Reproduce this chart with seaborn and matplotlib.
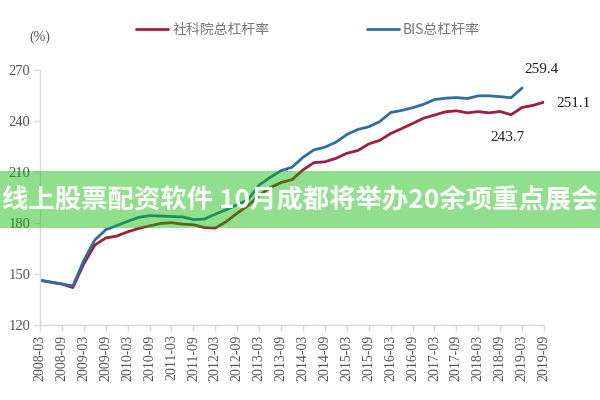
import numpy as np
import pandas as pd
import matplotlib
matplotlib.use("Agg")
import matplotlib.pyplot as plt
from matplotlib.patches import Rectangle
import seaborn as sns

# ---- data ----
quarters = [f"{y}-{m}" for y in range(2008, 2020) for m in ("03", "06", "09", "12")][:47]
cass = [146.3, 145.2, 144.1, 142.0, 156.0, 167.0, 171.2, 172.3, 174.8, 176.8,
        178.3, 179.7, 180.2, 179.3, 179.0, 177.3, 177.0, 180.8, 185.8, 190.3,
        196.3, 200.8, 203.8, 205.5, 211.2, 215.5, 216.0, 218.0, 221.0, 222.6,
        226.5, 228.6, 232.6, 235.5, 238.5, 241.6, 243.5, 245.4, 246.0, 244.8,
        245.5, 244.8, 245.6, 243.7, 248.0, 249.2, 251.1]
bis = [146.3, 145.2, 144.1, 143.0, 158.0, 170.0, 176.0, 178.5, 181.0, 183.3,
       184.3, 184.1, 183.8, 183.6, 182.0, 182.3, 185.2, 187.8, 190.8, 193.8,
       202.3, 206.8, 210.8, 212.8, 218.6, 223.0, 224.6, 227.5, 232.0, 235.0,
       236.6, 239.6, 245.0, 246.2, 247.8, 249.8, 252.6, 253.4, 253.8, 253.2,
       254.8, 254.8, 254.3, 253.7, 259.4, np.nan, np.nan]
series_names = ["社科院总杠杆率", "BIS总杠杆率"]
yticks = [120, 150, 180, 210, 240, 270]
annotations = ["259.4", "251.1", "243.7"]
banner_text = "线上股票配资软件 10月成都将举办20余项重点展会"

df = pd.DataFrame({
    "idx": list(range(len(quarters))) * 2,
    "value": cass + bis,
    "series": [series_names[0]] * len(quarters) + [series_names[1]] * len(quarters),
})

sns.set_style("white")
plt.rcParams["font.family"] = ["Noto Sans CJK SC", "DejaVu Sans"]

fig = plt.figure(figsize=(6, 4), dpi=100)
ax = fig.add_axes([40 / 600, 1 - 325 / 400, 504 / 600, 255 / 400])

palette = {series_names[0]: "#A01E3C", series_names[1]: "#2F6CA6"}
sns.lineplot(data=df.dropna(), x="idx", y="value", hue="series", palette=palette,
             linewidth=2.0, ax=ax, legend=False, sort=True)

ax.set_xlim(0, len(quarters) - 1)
ax.set_ylim(120, 270)
ax.set_yticks(yticks)
ax.set_yticklabels([str(v) for v in yticks], family="Liberation Serif",
                   fontsize=10.5, color="#555555")
ax.set_xticks(range(0, len(quarters), 2))
ax.set_xticklabels(quarters[::2], rotation=90, family="Liberation Serif",
                   fontsize=10, color="#555555")
ax.set_xlabel("")
ax.set_ylabel("")
for s in ("top", "right"):
    ax.spines[s].set_visible(False)
for s in ("left", "bottom"):
    ax.spines[s].set_color("#d9d9d9")
    ax.spines[s].set_linewidth(1.0)
ax.tick_params(axis="both", which="both", length=4, color="#d9d9d9", width=1,
               pad=3, direction="out", left=True, bottom=True)

# annotations
ax.text(45.8, 270.3, annotations[0], family="Liberation Serif", fontsize=11,
        ha="center", va="center", color="#222222", clip_on=False)
ax.text(48.7, 250.5, annotations[1], family="Liberation Serif", fontsize=11,
        ha="center", va="center", color="#222222", clip_on=False)
ax.text(42.7, 230.5, annotations[2], family="Liberation Serif", fontsize=11,
        ha="center", va="center", color="#222222", clip_on=False)

# (%) label
fig.text(40 / 600, 1 - 37 / 400, "(%)", family="Liberation Serif", fontsize=10,
         color="#555555", ha="center", va="center")

# legend
handles = ax.get_lines()[:2]
leg = fig.legend(handles, series_names, loc="center", bbox_to_anchor=(308 / 600, 1 - 30 / 400),
                 ncol=2, frameon=False, handlelength=2.3, handletextpad=0.3,
                 columnspacing=7.0, fontsize=10)
for t in leg.get_texts():
    t.set_color("#777777")

# overlay banner
fig.patches.append(Rectangle((0, 1 - 228 / 400), 1, 57 / 400, transform=fig.transFigure,
                             facecolor=(0.04, 0.73, 0.0), alpha=0.45, edgecolor="none",
                             zorder=10))
fig.text(0.5, 1 - 200 / 400, banner_text, color="white", fontsize=19, fontweight="bold",
         ha="center", va="center", zorder=11)

fig.savefig("out.png", dpi=100)
